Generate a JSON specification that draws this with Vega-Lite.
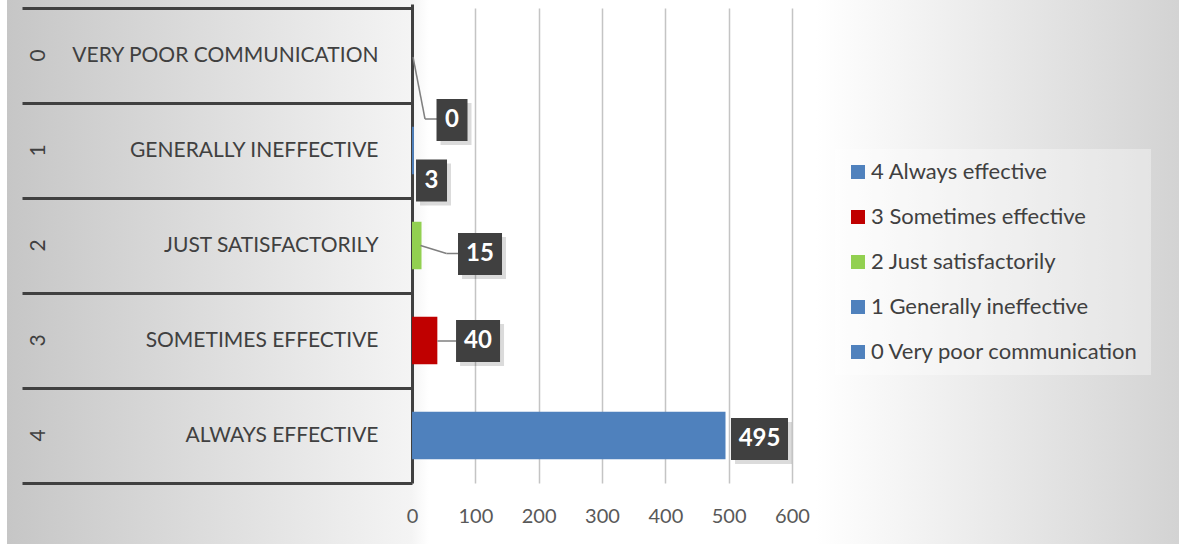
{
  "$schema": "https://vega.github.io/schema/vega-lite/v6.json",
  "width": 1172,
  "height": 544,
  "autosize": {"type": "none"},
  "padding": {"left": 7, "top": 0, "right": 0, "bottom": 1},
  "background": "#ffffff",
  "view": {
    "stroke": null,
    "fill": {
      "gradient": "linear", "x1": 0, "y1": 0, "x2": 1, "y2": 0,
      "stops": [
        {"offset": 0, "color": "#c6c6c6"},
        {"offset": 0.345, "color": "#f4f4f4"},
        {"offset": 0.36, "color": "#ffffff"},
        {"offset": 0.69, "color": "#ffffff"},
        {"offset": 1, "color": "#d3d3d3"}
      ]
    }
  },
  "config": {"font": "Lato"},
  "datasets": {
    "responses": [
      {"code": "0", "category": "VERY POOR COMMUNICATION", "series": "0 Very poor communication", "count": 0},
      {"code": "1", "category": "GENERALLY INEFFECTIVE", "series": "1 Generally ineffective", "count": 3},
      {"code": "2", "category": "JUST  SATISFACTORILY", "series": "2 Just  satisfactorily", "count": 15},
      {"code": "3", "category": "SOMETIMES EFFECTIVE", "series": "3 Sometimes effective", "count": 40},
      {"code": "4", "category": "ALWAYS EFFECTIVE", "series": "4 Always effective", "count": 495}
    ]
  },
  "data": {"name": "responses"},
  "layer": [
    {
      "mark": {"type": "bar", "height": {"band": 0.5}},
      "encoding": {
        "y": {
          "field": "code", "type": "nominal",
          "scale": {"domain": ["0", "1", "2", "3", "4"], "paddingInner": 0, "paddingOuter": 0.3632, "align": 0.116},
          "axis": {
            "orient": "left", "offset": -31, "title": null, "domain": false, "ticks": false,
            "labelAngle": 270, "labelAlign": "center", "labelBaseline": "middle", "labelPadding": 0,
            "labelFont": "Lato", "labelFontSize": 21, "labelColor": "#404040"
          }
        },
        "x": {
          "field": "count", "type": "quantitative",
          "scale": {"domain": [-639.5, 1211.05], "nice": false, "zero": false},
          "axis": {
            "orient": "bottom", "offset": -61, "values": [100, 200, 300, 400, 500, 600],
            "title": null, "domain": false, "grid": false, "ticks": true, "tickSize": -475,
            "tickColor": "#c4c4c4", "tickWidth": 1.5,
            "labelPadding": 508, "labelBaseline": "middle", "labelFlush": false, "labelOverlap": false,
            "labelFont": "Lato", "labelFontSize": 20, "labelColor": "#595959"
          }
        },
        "x2": {"datum": 0},
        "color": {
          "field": "series", "type": "nominal",
          "scale": {
            "domain": ["4 Always effective", "3 Sometimes effective", "2 Just  satisfactorily", "1 Generally ineffective", "0 Very poor communication"],
            "range": ["#4f81bd", "#c00000", "#92d050", "#4f81bd", "#4f81bd"]
          },
          "legend": {
            "orient": "none", "legendX": 828, "legendY": 149, "title": null,
            "symbolType": "square", "symbolSize": 196, "symbolStrokeWidth": 0, "symbolOpacity": 1,
            "labelFont": "Lato", "labelFontSize": 22, "labelColor": "#404040", "labelOffset": 2, "labelLimit": 500,
            "rowPadding": 23, "padding": 12, "fillColor": "rgba(255,255,255,0.35)"
          }
        }
      }
    },
    {
      "encoding": {
        "y": {
          "field": "category", "type": "nominal",
          "scale": {
            "domain": ["VERY POOR COMMUNICATION", "GENERALLY INEFFECTIVE", "JUST  SATISFACTORILY", "SOMETIMES EFFECTIVE", "ALWAYS EFFECTIVE"],
            "paddingInner": 0, "paddingOuter": 0.3632, "align": 0.116
          },
          "axis": {
            "orient": "left", "offset": -405, "title": null, "domain": false,
            "ticks": true, "tickBand": "extent", "tickSize": 390, "tickWidth": 3, "tickColor": "#404040",
            "labelPadding": -356, "labelAlign": "right", "labelBaseline": "middle", "labelLimit": 500,
            "labelFont": "Lato", "labelFontSize": 21, "labelColor": "#404040"
          }
        },
        "x": {
          "field": "count", "type": "quantitative",
          "axis": {
            "orient": "bottom", "offset": -61, "values": [0],
            "title": null, "domain": false, "grid": false, "ticks": true, "tickSize": -479,
            "tickColor": "#404040", "tickWidth": 3,
            "labelPadding": 512, "labelBaseline": "middle", "labelFlush": false, "labelOverlap": false,
            "labelFont": "Lato", "labelFontSize": 20, "labelColor": "#595959"
          }
        }
      },
      "layer": [
        {
          "transform": [{"filter": "datum.code === '0'"}],
          "mark": {"type": "rule", "color": "#7f7f7f", "strokeWidth": 1.5, "xOffset": 1, "yOffset": 1.5, "x2Offset": 13, "y2Offset": 63.5},
          "encoding": {"x2": {"field": "count"}, "y2": {"field": "category"}}
        },
        {
          "transform": [{"filter": "datum.code === '0'"}],
          "mark": {"type": "rule", "color": "#7f7f7f", "strokeWidth": 1.5, "xOffset": 13, "x2Offset": 25, "yOffset": 63.5},
          "encoding": {"x2": {"field": "count"}}
        },
        {
          "transform": [{"filter": "datum.code === '2'"}],
          "mark": {"type": "rule", "color": "#7f7f7f", "strokeWidth": 1.5, "xOffset": -1, "yOffset": 0, "x2Offset": 25, "y2Offset": 8},
          "encoding": {"x2": {"field": "count"}, "y2": {"field": "category"}}
        },
        {
          "transform": [{"filter": "datum.code === '2'"}],
          "mark": {"type": "rule", "color": "#7f7f7f", "strokeWidth": 1.5, "xOffset": 25, "x2Offset": 37, "yOffset": 8},
          "encoding": {"x2": {"field": "count"}}
        },
        {
          "transform": [{"filter": "datum.code === '3'"}],
          "mark": {"type": "rule", "color": "#7f7f7f", "strokeWidth": 1.5, "xOffset": 0, "x2Offset": 19, "yOffset": 0.5},
          "encoding": {"x2": {"field": "count"}}
        },
        {
          "transform": [{"filter": "datum.code === '0'"}],
          "mark": {"type": "point", "shape": "M-0.738,-1H0.738V1H-0.738Z", "size": 1764, "filled": true, "fill": "#000000", "opacity": 0.14, "strokeWidth": 0, "xOffset": 44, "yOffset": 68.5}
        },
        {
          "transform": [{"filter": "datum.code === '1'"}],
          "mark": {"type": "point", "shape": "M-0.738,-1H0.738V1H-0.738Z", "size": 1764, "filled": true, "fill": "#000000", "opacity": 0.14, "strokeWidth": 0, "xOffset": 21.6, "yOffset": 34}
        },
        {
          "transform": [{"filter": "datum.code === '2'"}],
          "mark": {"type": "point", "shape": "M-1,-0.9545H1V0.9545H-1Z", "size": 1936, "filled": true, "fill": "#000000", "opacity": 0.14, "strokeWidth": 0, "xOffset": 62.5, "yOffset": 12.5}
        },
        {
          "transform": [{"filter": "datum.code === '3'"}],
          "mark": {"type": "point", "shape": "M-1,-0.9545H1V0.9545H-1Z", "size": 1936, "filled": true, "fill": "#000000", "opacity": 0.14, "strokeWidth": 0, "xOffset": 44.7, "yOffset": 4.5}
        },
        {
          "transform": [{"filter": "datum.code === '4'"}],
          "mark": {"type": "point", "shape": "M-1,-0.737H1V0.737H-1Z", "size": 3249, "filled": true, "fill": "#000000", "opacity": 0.14, "strokeWidth": 0, "xOffset": 38, "yOffset": 7.5}
        },
        {
          "transform": [{"filter": "datum.code === '0'"}],
          "mark": {"type": "point", "shape": "M-0.738,-1H0.738V1H-0.738Z", "size": 1764, "filled": true, "fill": "#404040", "opacity": 1, "strokeWidth": 0, "xOffset": 40, "yOffset": 64.5}
        },
        {
          "transform": [{"filter": "datum.code === '1'"}],
          "mark": {"type": "point", "shape": "M-0.738,-1H0.738V1H-0.738Z", "size": 1764, "filled": true, "fill": "#404040", "opacity": 1, "strokeWidth": 0, "xOffset": 17.6, "yOffset": 30}
        },
        {
          "transform": [{"filter": "datum.code === '2'"}],
          "mark": {"type": "point", "shape": "M-1,-0.9545H1V0.9545H-1Z", "size": 1936, "filled": true, "fill": "#404040", "opacity": 1, "strokeWidth": 0, "xOffset": 58.5, "yOffset": 8.5}
        },
        {
          "transform": [{"filter": "datum.code === '3'"}],
          "mark": {"type": "point", "shape": "M-1,-0.9545H1V0.9545H-1Z", "size": 1936, "filled": true, "fill": "#404040", "opacity": 1, "strokeWidth": 0, "xOffset": 40.7, "yOffset": 0.5}
        },
        {
          "transform": [{"filter": "datum.code === '4'"}],
          "mark": {"type": "point", "shape": "M-1,-0.737H1V0.737H-1Z", "size": 3249, "filled": true, "fill": "#404040", "opacity": 1, "strokeWidth": 0, "xOffset": 34, "yOffset": 3.5}
        },
        {
          "transform": [{"filter": "datum.code === '0'"}],
          "mark": {"type": "text", "font": "Lato", "fontSize": 24, "fontWeight": "bold", "fill": "#ffffff", "align": "center", "baseline": "middle", "dx": 40, "dy": 64.5},
          "encoding": {"text": {"field": "count"}}
        },
        {
          "transform": [{"filter": "datum.code === '1'"}],
          "mark": {"type": "text", "font": "Lato", "fontSize": 24, "fontWeight": "bold", "fill": "#ffffff", "align": "center", "baseline": "middle", "dx": 17.6, "dy": 30},
          "encoding": {"text": {"field": "count"}}
        },
        {
          "transform": [{"filter": "datum.code === '2'"}],
          "mark": {"type": "text", "font": "Lato", "fontSize": 24, "fontWeight": "bold", "fill": "#ffffff", "align": "center", "baseline": "middle", "dx": 58.5, "dy": 8.5},
          "encoding": {"text": {"field": "count"}}
        },
        {
          "transform": [{"filter": "datum.code === '3'"}],
          "mark": {"type": "text", "font": "Lato", "fontSize": 24, "fontWeight": "bold", "fill": "#ffffff", "align": "center", "baseline": "middle", "dx": 40.7, "dy": 0.5},
          "encoding": {"text": {"field": "count"}}
        },
        {
          "transform": [{"filter": "datum.code === '4'"}],
          "mark": {"type": "text", "font": "Lato", "fontSize": 24, "fontWeight": "bold", "fill": "#ffffff", "align": "center", "baseline": "middle", "dx": 34, "dy": 3.5},
          "encoding": {"text": {"field": "count"}}
        }
      ]
    }
  ],
  "resolve": {"scale": {"y": "independent"}, "axis": {"x": "independent", "y": "independent"}}
}
